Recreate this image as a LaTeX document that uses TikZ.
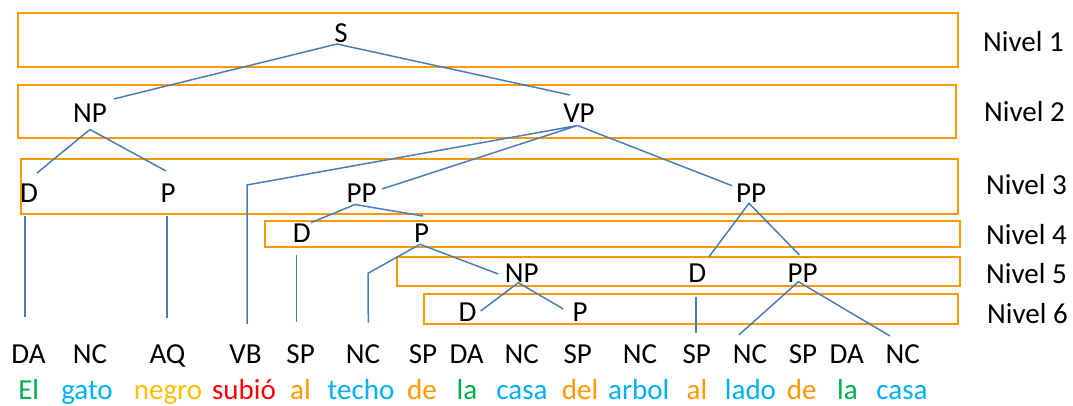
\documentclass[tikz,border=0pt]{standalone}
\usepackage{fontspec}
\setmainfont{Carlito}
\definecolor{boxorange}{RGB}{255,153,0}
\definecolor{treeblue}{RGB}{74,126,187}
\definecolor{wgreen}{RGB}{0,176,80}
\definecolor{wblue}{RGB}{0,176,240}
\definecolor{wgold}{RGB}{255,192,0}
\definecolor{wred}{RGB}{255,0,0}
\definecolor{worange}{RGB}{255,153,0}
\begin{document}
\begin{tikzpicture}[x=1pt,y=-1pt,
  every node/.style={font=\fontsize{29}{34}\selectfont, inner sep=0pt},
  lbl/.style={anchor=base},
  levelbox/.style={draw=boxorange, line width=2pt},
  edge/.style={draw=treeblue, line width=1.5pt},
  nivel/.style={anchor=base west},
  word/.style={anchor=base}]
\useasboundingbox (0,0) rectangle (1073,406);

% level frames
\draw[levelbox] (18,13) rectangle (958,67);
\draw[levelbox] (18,85) rectangle (956,138);
\draw[levelbox] (21,159) rectangle (958,214);
\draw[levelbox] (265,221) rectangle (960,247);
\draw[levelbox] (397,257) rectangle (960,286);
\draw[levelbox] (424,294) rectangle (958,324);

% level captions
\node[nivel] (n1) at (983,52) {Nivel 1};
\node[nivel] (n2) at (984,122) {Nivel 2};
\node[nivel] (n3) at (986,195) {Nivel 3};
\node[nivel] (n4) at (986,244) {Nivel 4};
\node[nivel] (n5) at (986,283) {Nivel 5};
\node[nivel] (n6) at (987,323) {Nivel 6};

% constituent labels
\node[lbl] (S) at (341,42.7) {S};
\node[lbl] (NP) at (90,123) {NP};
\node[lbl] (VP) at (579,123) {VP};
\node[lbl] (D1) at (29,203) {D};
\node[lbl] (P1) at (168,203) {P};
\node[lbl] (PPa) at (361.6,203) {PP};
\node[lbl] (PPb) at (751,203) {PP};
\node[lbl] (D4) at (301.7,242.7) {D};
\node[lbl] (P4) at (421.7,242.7) {P};
\node[lbl] (NP5) at (521.7,282.7) {NP};
\node[lbl] (D5) at (697.2,282.7) {D};
\node[lbl] (PP5) at (802.7,282.7) {PP};
\node[lbl] (D6) at (467.5,321.7) {D};
\node[lbl] (P6) at (580,321.7) {P};

% attachment points of the branches
\coordinate (S-b) at (337,44);
\coordinate (NP-t) at (113.6,99);
\coordinate (VP-t) at (570,95);
\coordinate (NP-b) at (90,129.5);
\coordinate (D1-t) at (37,173);
\coordinate (P1-t) at (166,171);
\coordinate (D1-b) at (25,216);
\coordinate (DA1-t) at (25,316.7);
\coordinate (P1-b) at (167,216);
\coordinate (AQ-t) at (167,318);
\coordinate (VP-b) at (577.5,125.5);
\coordinate (VB-k) at (247,185);
\coordinate (VB-t) at (247,324);
\coordinate (PPa-t) at (382,189);
\coordinate (PPb-t) at (732,185.7);
\coordinate (PPa-b) at (355,204.5);
\coordinate (D4-t) at (311,222.7);
\coordinate (P4-t) at (423,216);
\coordinate (D4-b) at (296.7,255);
\coordinate (SP1-t) at (296.7,321.7);
\coordinate (P4-b) at (420,244.3);
\coordinate (NC-k) at (368,273.3);
\coordinate (NC2-t) at (368.3,322.7);
\coordinate (NP5-t) at (498.3,274);
\coordinate (NP5-b) at (518.3,282.7);
\coordinate (D6-t) at (480.7,311);
\coordinate (P6-t) at (563.3,309);
\coordinate (PPb-b) at (749,203.3);
\coordinate (D5-t) at (709,256.7);
\coordinate (PP5-t) at (799.4,255);
\coordinate (D5-b) at (696.2,296.7);
\coordinate (SP5-t) at (696.2,332.7);
\coordinate (PP5-b) at (798.4,281.7);
\coordinate (NC6-t) at (738.8,335);
\coordinate (NC7-t) at (890,336);

% branches
\draw[edge] (NP-t) -- (S-b) -- (VP-t);
\draw[edge] (D1-t) -- (NP-b) -- (P1-t);
\draw[edge] (D1-b) -- (DA1-t);
\draw[edge] (P1-b) -- (AQ-t);
\draw[edge] (VB-t) -- (VB-k) -- (VP-b) -- (PPa-t);
\draw[edge] (VP-b) -- (PPb-t);
\draw[edge] (D4-t) -- (PPa-b) -- (P4-t);
\draw[edge] (D4-b) -- (SP1-t);
\draw[edge] (NC2-t) -- (NC-k) -- (P4-b) -- (NP5-t);
\draw[edge] (D6-t) -- (NP5-b) -- (P6-t);
\draw[edge] (D5-t) -- (PPb-b) -- (PP5-t);
\draw[edge] (D5-b) -- (SP5-t);
\draw[edge] (NC6-t) -- (PP5-b) -- (NC7-t);

% part-of-speech tags
\node[lbl] (t1) at (28.5,363) {DA};
\node[lbl] (t2) at (90,363) {NC};
\node[lbl] (t3) at (167.5,363) {AQ};
\node[lbl] (t4) at (245.5,363) {VB};
\node[lbl] (t5) at (300.6,363) {SP};
\node[lbl] (t6) at (363,363) {NC};
\node[lbl] (t7) at (423,363) {SP};
\node[lbl] (t8) at (466.6,363) {DA};
\node[lbl] (t9) at (521.7,363) {NC};
\node[lbl] (t10) at (577.7,363) {SP};
\node[lbl] (t11) at (640,363) {NC};
\node[lbl] (t12) at (696.7,363) {SP};
\node[lbl] (t13) at (750,363) {NC};
\node[lbl] (t14) at (803,363) {SP};
\node[lbl] (t15) at (846.7,363) {DA};
\node[lbl] (t16) at (902.7,363) {NC};

% sentence words
\node[word, text=wgreen] (w1) at (28.7,399.5) {El};
\node[word, text=wblue] (w2) at (87,399.5) {gato};
\node[word, text=wgold] (w3) at (168,399.5) {negro};
\node[word, text=wred] (w4) at (244,399.5) {subió};
\node[word, text=worange] (w5) at (300.5,399.5) {al};
\node[word, text=wblue] (w6) at (361,399.5) {techo};
\node[word, text=worange] (w7) at (422,399.5) {de};
\node[word, text=wgreen] (w8) at (467,399.5) {la};
\node[word, text=wblue] (w9) at (522,399.5) {casa};
\node[word, text=worange] (w10) at (580,399.5) {del};
\node[word, text=wblue] (w11) at (638.8,399.5) {arbol};
\node[word, text=worange] (w12) at (697,399.5) {al};
\node[word, text=wblue] (w13) at (750.5,399.5) {lado};
\node[word, text=worange] (w14) at (801.7,399.5) {de};
\node[word, text=wgreen] (w15) at (847.5,399.5) {la};
\node[word, text=wblue] (w16) at (902,399.5) {casa};
\end{tikzpicture}
\end{document}
